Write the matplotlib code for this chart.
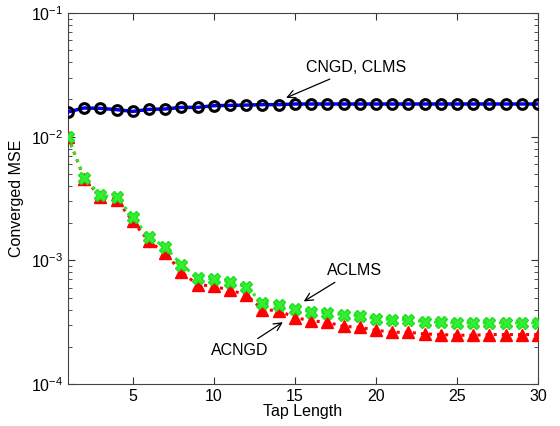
import numpy as np
import matplotlib
matplotlib.use("Agg")
import matplotlib.pyplot as plt

plt.rcParams['font.family'] = ['Liberation Sans', 'DejaVu Sans']
plt.rcParams['mathtext.default'] = 'regular'

# --- data ---
tap = np.arange(1, 31)

clms = [0.01584, 0.01706, 0.01694, 0.01653, 0.0160, 0.01663, 0.01674, 0.01725,
        0.01725, 0.0178, 0.0179, 0.0180, 0.01815, 0.01815, 0.01837, 0.01837,
        0.01837, 0.01837, 0.01837, 0.01837, 0.01837, 0.01837, 0.01837, 0.01837,
        0.01837, 0.01837, 0.01837, 0.01837, 0.01837, 0.01837]

aclms = [0.0100, 0.00464, 0.00335, 0.00325, 0.00223, 0.00155, 0.00128, 0.000923,
         0.000721, 0.000708, 0.000669, 0.000610, 0.000453, 0.000439, 0.000405,
         0.000383, 0.000376, 0.000364, 0.000353, 0.000338, 0.000332, 0.000332,
         0.000318, 0.000315, 0.000312, 0.000312, 0.000312, 0.000312, 0.000312,
         0.000312]

acngd = [0.0100, 0.00458, 0.00327, 0.00310, 0.00207, 0.00142, 0.00115, 0.000800,
         0.000637, 0.000617, 0.000572, 0.000528, 0.000399, 0.000392, 0.000344,
         0.000325, 0.000315, 0.000293, 0.000287, 0.000272, 0.000262, 0.000262,
         0.000254, 0.000251, 0.000248, 0.000248, 0.000251, 0.000251, 0.000251,
         0.000251]

xticks = [5, 10, 15, 20, 25, 30]

# --- figure ---
fig = plt.figure(figsize=(5.6, 4.26), dpi=100)
ax = fig.add_axes([0.1214, 0.0986, 0.8393, 0.8709])

# CLMS / CNGD (overlapping)
ax.plot(tap, clms, '-', color='#0000ff', lw=2.5, zorder=3)
ax.plot(tap, clms, 'o', mfc='none', mec='black', mew=2.2, ms=7, zorder=4)

# ACNGD / ACLMS
ax.plot(tap, acngd, ':', color='red', lw=2.2, zorder=3)
ax.plot(tap, aclms, ':', color='#22ee22', lw=2.2, zorder=3)
ax.plot(tap, acngd, '^', color='red', ms=8.5, mec='red', zorder=4)
ax.plot(tap, aclms, 'X', color='#33ee33', ms=9, mec='#22dd22', zorder=5)

ax.set_yscale('log')
ax.set_xlim(1, 30)
ax.set_ylim(1e-4, 1e-1)
ax.set_xticks(xticks)
ax.tick_params(which='both', direction='in', top=True, right=True,
               labelsize=11.5, colors='#333333', labelcolor='black')
ax.tick_params(which='major', length=5)
ax.tick_params(which='minor', length=3)
for s in ax.spines.values():
    s.set_color('#444444')

ax.set_xlabel('Tap Length', fontsize=11.5, labelpad=0)
ax.set_ylabel('Converged MSE', fontsize=11.5, labelpad=5)

arrow = dict(arrowstyle='->', color='black', lw=0.9, mutation_scale=14)
ax.annotate('CNGD, CLMS', xy=(14.3, 0.0202), xytext=(15.7, 0.0361),
            fontsize=11.5, va='center', ha='left', arrowprops=arrow)
ax.annotate('ACLMS', xy=(15.4, 0.000453), xytext=(16.95, 0.000826),
            fontsize=11.5, va='center', ha='left', arrowprops=arrow)
ax.annotate('ACNGD', xy=(14.4, 0.000325), xytext=(13.36, 0.000187),
            fontsize=11.5, va='center', ha='right', arrowprops=arrow)

fig.savefig('out.png', dpi=100)
